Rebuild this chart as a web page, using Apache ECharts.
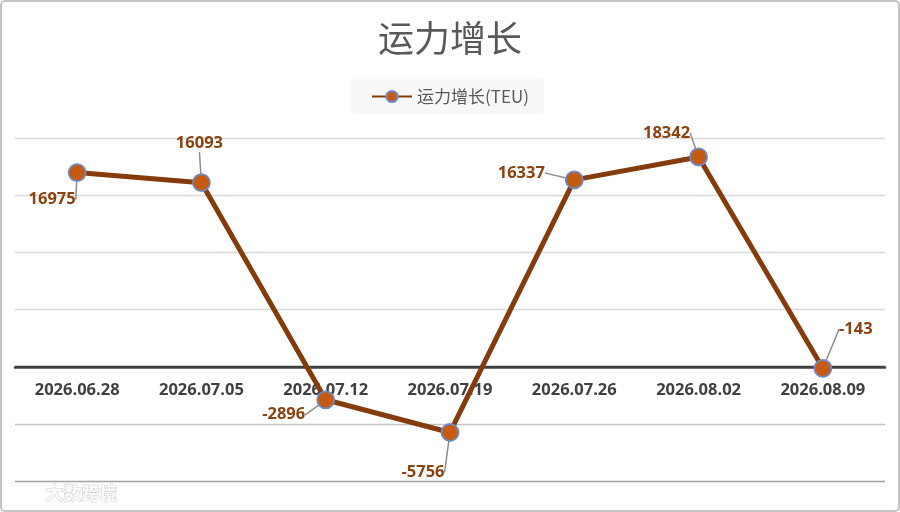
<!DOCTYPE html>
<html><head><meta charset="utf-8">
<script src="https://cdn.jsdelivr.net/npm/echarts@6/dist/echarts.min.js"></script>
<style>html,body{margin:0;padding:0;background:#fff}#c{width:900px;height:512px}</style>
</head><body><div id="c"></div>
<script>
const categories = ['2026.06.28','2026.07.05','2026.07.12','2026.07.19','2026.07.26','2026.08.02','2026.08.09'];
const capacityGrowth = [16975, 16093, -2896, -5756, 16337, 18342, -143];
const seriesName = '运力增长(TEU)';
const titleText = '运力增长';
const yMin = -10000, yMax = 20000, yStep = 5000;
// label offsets (label centre relative to marker centre), px
const labelOffsets = [[-25,27],[-2,-39],[-42,15],[-27,40],[-53,-7],[-32,-24],[33,-39]];

const chart = echarts.init(document.getElementById('c'));
chart.setOption({
  backgroundColor:'#fff',
  animation:false,
  title:{text:titleText,left:'center',top:15,
    textStyle:{fontFamily:'Noto Sans CJK SC',fontSize:36,fontWeight:'normal',color:'#595959'}},
  legend:{top:79,left:'center',backgroundColor:'#f8f8f8',borderRadius:4,
    padding:[9,15,9,20],itemWidth:40,itemHeight:14,itemGap:5,
    textStyle:{fontFamily:'Noto Sans CJK SC',fontSize:17,color:'#595959'}},
  grid:{left:15,right:15,top:138,bottom:31,containLabel:false},
  xAxis:{type:'category',data:categories,boundaryGap:true,position:'bottom',
    axisLine:{onZero:false,lineStyle:{color:'#404040',width:2.5}},
    axisTick:{show:false},
    axisLabel:{margin:15,fontFamily:'Open Sans',fontWeight:'bold',fontSize:16.5,color:'#404040'}},
  yAxis:{type:'value',min:yMin,max:yMax,interval:yStep,
    axisLabel:{show:false},axisLine:{show:false},axisTick:{show:false},
    splitLine:{lineStyle:{color:['#a0a0a0','#c4c4c4','#404040','#d9d9d9','#d9d9d9','#d9d9d9','#d9d9d9'],width:1.4}}},
  series:[{
    name:seriesName,type:'line',data:capacityGrowth,
    symbol:'circle',symbolSize:17,
    lineStyle:{color:'#843C0C',width:5},
    itemStyle:{color:'#C55A11',borderColor:'#6d89c9',borderWidth:1.8},
    label:{show:true,position:'inside',fontFamily:'Open Sans',fontWeight:'bold',fontSize:16.5,color:'#8a4210'},
    labelLine:{show:true,lineStyle:{color:'#8c8c8c',width:1.5}},
    labelLayout:function(p){
      const o = labelOffsets[p.dataIndex];
      return {x:p.rect.x+p.rect.width/2+o[0], y:p.rect.y+p.rect.height/2+o[1], align:'center', verticalAlign:'middle'};
    }
  }],
  graphic:[
    {type:'rect',shape:{x:1,y:1,width:898,height:510,r:4},style:{fill:'none',stroke:'#c4c4c4',lineWidth:2},silent:true,z:100},
    {type:'text',left:45,top:484,style:{text:'大数跨境',fontFamily:'Noto Sans CJK SC',fontSize:18,fontWeight:'bold',fill:'#fafafa',stroke:'#d0d0d0',lineWidth:1},silent:true,z:100}
  ]
});
// move the category axis (line + labels) onto the zero value line
const yZero = chart.convertToPixel({yAxisIndex:0}, 0);
const yBottom = chart.convertToPixel({yAxisIndex:0}, yMin);
chart.setOption({xAxis:{offset: yZero - yBottom}});
</script></body></html>
